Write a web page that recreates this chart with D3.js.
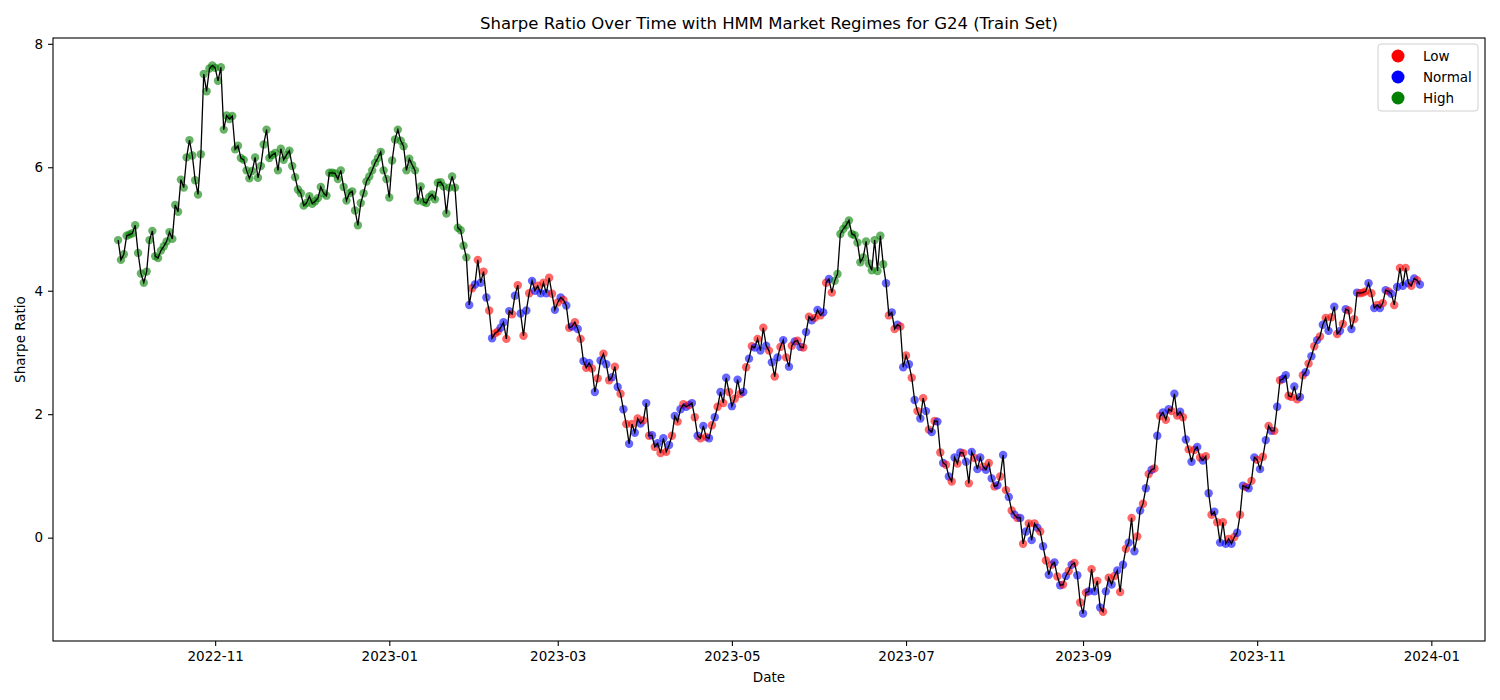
<!DOCTYPE html>
<html>
<head>
<meta charset="utf-8">
<script src="https://cdn.jsdelivr.net/npm/d3@7"></script>
<style>
  body { margin: 0; background: #fff; }
  svg text { font-family: "DejaVu Sans", sans-serif; fill: #000; }
</style>
</head>
<body>
<svg id="chart" width="1500" height="700"></svg>
<script>
// one value per calendar day, first day below
var firstDay = "2022-09-28";

var sharpeValues = [
  4.82, 4.50, 4.59, 4.89, 4.91, 4.93, 5.06, 4.61, 4.28, 4.13,
  4.31, 4.82, 4.97, 4.56, 4.53, 4.65, 4.72, 4.80, 4.95, 4.84,
  5.39, 5.28, 5.80, 5.67, 6.16, 6.44, 6.19, 5.79, 5.56, 6.21,
  7.51, 7.23, 7.60, 7.65, 7.61, 7.40, 7.62, 6.61, 6.84, 6.78,
  6.83, 6.29, 6.35, 6.15, 6.12, 5.95, 5.82, 5.94, 6.16, 5.83,
  6.02, 6.37, 6.61, 6.15, 6.20, 6.23, 5.95, 6.30, 6.12, 6.20,
  6.27, 6.02, 5.84, 5.64, 5.58, 5.38, 5.42, 5.53, 5.41, 5.45,
  5.50, 5.68, 5.58, 5.54, 5.91, 5.91, 5.90, 5.81, 5.95, 5.68,
  5.46, 5.58, 5.61, 5.30, 5.06, 5.42, 5.58, 5.77, 5.85, 5.95,
  6.07, 6.15, 6.25, 5.95, 5.81, 5.51, 6.11, 6.45, 6.61, 6.43,
  6.34, 5.95, 6.14, 6.04, 5.95, 5.46, 5.69, 5.44, 5.42, 5.52,
  5.56, 5.48, 5.75, 5.76, 5.69, 5.25, 5.67, 5.85, 5.67, 5.02,
  4.98, 4.73, 4.54, 3.77, 4.04, 4.10, 4.50, 4.13, 4.31, 3.89,
  3.68, 3.23, 3.31, 3.34, 3.40, 3.49, 3.22, 3.67, 3.62, 3.92,
  4.09, 3.63, 3.27, 3.68, 3.96, 4.16, 4.00, 4.08, 3.96, 4.13,
  3.96, 4.21, 3.95, 3.69, 3.81, 3.89, 3.85, 3.76, 3.40, 3.42,
  3.49, 3.38, 3.22, 2.86, 2.75, 2.83, 2.74, 2.36, 2.58, 2.87,
  2.98, 2.81, 2.55, 2.60, 2.77, 2.44, 2.33, 2.08, 1.84, 1.52,
  1.84, 1.70, 1.93, 1.85, 1.90, 2.18, 1.65, 1.66, 1.47, 1.53,
  1.37, 1.61, 1.39, 1.50, 1.65, 1.97, 1.88, 2.08, 2.16, 2.12,
  2.15, 2.18, 1.95, 1.65, 1.61, 1.81, 1.63, 1.61, 1.82, 1.95,
  2.12, 2.36, 2.18, 2.59, 2.36, 2.13, 2.25, 2.56, 2.33, 2.36,
  2.76, 2.90, 3.10, 3.08, 3.22, 3.03, 3.40, 3.11, 3.03, 2.84,
  2.61, 2.92, 3.09, 3.20, 2.92, 2.77, 3.11, 3.18, 3.19, 3.09,
  3.08, 3.33, 3.58, 3.52, 3.56, 3.69, 3.60, 3.65, 4.13, 4.19,
  3.97, 4.16, 4.27, 4.92, 5.00, 5.06, 5.14, 4.92, 4.90, 4.78,
  4.46, 4.54, 4.80, 4.44, 4.33, 4.82, 4.32, 4.89, 4.43, 4.12,
  3.60, 3.65, 3.38, 3.45, 3.42, 2.76, 2.95, 2.81, 2.59, 2.23,
  2.05, 1.93, 2.26, 2.05, 1.75, 1.71, 1.89, 1.88, 1.38, 1.21,
  1.18, 0.99, 0.91, 1.30, 1.20, 1.38, 1.37, 1.23, 0.88, 1.39,
  1.29, 1.11, 1.30, 1.15, 1.10, 1.21, 0.96, 0.83, 0.85, 0.99,
  1.34, 0.77, 0.66, 0.44, 0.37, 0.32, 0.32, -0.10, 0.10, 0.23,
  -0.04, 0.23, 0.16, 0.10, -0.14, -0.37, -0.60, -0.44, -0.40, -0.63,
  -0.77, -0.76, -0.62, -0.54, -0.44, -0.41, -0.61, -1.05, -1.23, -0.89,
  -0.87, -0.51, -0.87, -0.70, -1.13, -1.20, -0.87, -0.65, -0.76, -0.62,
  -0.53, -0.88, -0.44, -0.18, -0.08, 0.32, -0.22, 0.02, 0.44, 0.55,
  0.80, 1.03, 1.10, 1.12, 1.65, 1.97, 2.03, 1.91, 2.08, 2.05,
  2.33, 1.98, 2.04, 1.95, 1.59, 1.43, 1.23, 1.42, 1.47, 1.30,
  1.25, 1.32, 0.72, 0.37, 0.42, 0.25, -0.08, 0.25, -0.10, -0.02,
  -0.10, 0.01, 0.08, 0.37, 0.84, 0.82, 0.80, 0.92, 1.30, 1.26,
  1.11, 1.31, 1.58, 1.81, 1.73, 1.73, 2.12, 2.55, 2.57, 2.63,
  2.30, 2.28, 2.45, 2.24, 2.28, 2.63, 2.68, 2.82, 2.94, 3.10,
  3.20, 3.26, 3.45, 3.56, 3.35, 3.57, 3.74, 3.30, 3.35, 3.46,
  3.70, 3.68, 3.38, 3.54, 3.97, 3.96, 3.97, 3.99, 4.12, 3.96,
  3.72, 3.77, 3.72, 3.80, 4.01, 3.99, 3.95, 3.77, 4.06, 4.37,
  4.08, 4.37, 4.12, 4.08, 4.20, 4.17, 4.10
];

// G = High, B = Normal, R = Low ; ten days per chunk
var regimeCodes = [
  "GGGGGGGGGG", "GGGGGGGGGG", "GGGGGGGGGG", "GGGGGGGGGG", "GGGGGGGGGG",
  "GGGGGGGGGG", "GGGGGGGGGG", "GGGGGGGGGG", "GGGGGGGGGG", "GGGGGGGGGG",
  "GGGGGGGGGG", "GGGGGGGGGG", "GGGBRBRBRB", "RBRRBBRBRB", "RBRBRBBRBR",
  "BRRBRBRBRB", "RBRBRBRBRB", "RBRBRBRBRB", "RBRBRBRBRB", "RBRBRBRBRB",
  "RBRBRBRBRB", "RBRBRBRBRB", "RBRBRBRBRB", "RBRBRBRBRB", "RBRBRBRBRB",
  "RGGGGGGGGG", "GGGGGGGGGB", "RBRBRBRBRB", "RBRBRBRBRB", "RBRBRBRBRB",
  "RBBRBRBRBR", "BRBRBRBRBR", "BRBRBRBRBR", "BRBRBRBRBR", "BRBRBRBRBR",
  "BRBRBRBRBR", "BRBRBRBRBR", "BRBRBRBRBR", "BRBRBRBRBR", "BRBRBRBRBR",
  "BRBRBRBRBB", "RRBRBRBRBR", "BRBRBRBRBR", "BRBRBRRRBR", "BRBRBRBRBR",
  "BRBRBRB"
].join("");

var regimeNames = ["Low", "Normal", "High"];
var regimeKeys = ["R", "B", "G"];
var regimeColors = ["red", "blue", "green"];

var yTicks = [0, 2, 4, 6, 8];

var chartTitle = "Sharpe Ratio Over Time with HMM Market Regimes for G24 (Train Set)";

var parseDay = d3.timeParse("%Y-%m-%d");
var start = parseDay(firstDay);

var points = sharpeValues.map(function(v, i) {
    return {
        date: d3.timeDay.offset(start, i),
        value: v,
        regime: regimeCodes[i]
    };
});

var plotLeft = 53, plotRight = 1485, plotTop = 38, plotBottom = 641;

var svg = d3.select("#chart");

// matplotlib style 5% margins
var dateExtent = d3.extent(points, function(d) { return d.date; });
var span = dateExtent[1] - dateExtent[0];
var x = d3.scaleTime()
    .domain([new Date(+dateExtent[0] - span * 0.05), new Date(+dateExtent[1] + span * 0.05)])
    .range([plotLeft, plotRight]);

var valExtent = d3.extent(sharpeValues);
var vspan = valExtent[1] - valExtent[0];
var y = d3.scaleLinear()
    .domain([valExtent[0] - vspan * 0.05, valExtent[1] + vspan * 0.05])
    .range([plotBottom, plotTop]);

var color = d3.scaleOrdinal().domain(regimeKeys).range(regimeColors);

// x axis
var xAxis = svg.append("g")
    .attr("transform", "translate(0," + plotBottom + ")")
    .call(d3.axisBottom(x)
        .ticks(d3.timeMonth.every(2))
        .tickFormat(d3.timeFormat("%Y-%m"))
        .tickSizeOuter(0)
        .tickSize(5)
        .tickPadding(5));
xAxis.select(".domain").remove();
xAxis.selectAll("text").style("font-size", "13.5px").attr("dy", "0.75em");
xAxis.selectAll("line").attr("stroke", "#000").attr("stroke-width", 1.1);

// y axis
var yAxis = svg.append("g")
    .attr("transform", "translate(" + plotLeft + ",0)")
    .call(d3.axisLeft(y)
        .tickValues(yTicks)
        .tickFormat(d3.format("d"))
        .tickSizeOuter(0)
        .tickSize(5)
        .tickPadding(5));
yAxis.select(".domain").remove();
yAxis.selectAll("text").style("font-size", "13.5px");
yAxis.selectAll("line").attr("stroke", "#000").attr("stroke-width", 1.1);

// points
svg.append("g")
    .selectAll("circle")
    .data(points)
    .enter()
    .append("circle")
    .attr("cx", function(d) { return x(d.date); })
    .attr("cy", function(d) { return y(d.value); })
    .attr("r", 4.2)
    .attr("fill", function(d) { return color(d.regime); })
    .attr("fill-opacity", 0.6);

// connecting line on top
var line = d3.line()
    .x(function(d) { return x(d.date); })
    .y(function(d) { return y(d.value); });

svg.append("path")
    .datum(points)
    .attr("d", line)
    .attr("fill", "none")
    .attr("stroke", "#000")
    .attr("stroke-width", 1.3);

// frame
svg.append("rect")
    .attr("x", plotLeft)
    .attr("y", plotTop)
    .attr("width", plotRight - plotLeft)
    .attr("height", plotBottom - plotTop)
    .attr("fill", "none")
    .attr("stroke", "#000")
    .attr("stroke-width", 1.1);

// title and labels
svg.append("text")
    .attr("x", (plotLeft + plotRight) / 2)
    .attr("y", 29)
    .attr("text-anchor", "middle")
    .style("font-size", "16.5px")
    .text(chartTitle);

svg.append("text")
    .attr("x", (plotLeft + plotRight) / 2)
    .attr("y", 682)
    .attr("text-anchor", "middle")
    .style("font-size", "13.5px")
    .text("Date");

svg.append("text")
    .attr("transform", "translate(25," + (plotTop + plotBottom) / 2 + ") rotate(-90)")
    .attr("text-anchor", "middle")
    .style("font-size", "13.5px")
    .text("Sharpe Ratio");

// legend
var legend = svg.append("g").attr("transform", "translate(1378,44)");
legend.append("rect")
    .attr("width", 100)
    .attr("height", 67)
    .attr("rx", 3)
    .attr("fill", "#fff")
    .attr("fill-opacity", 0.8)
    .attr("stroke", "#d0d0d0");

var item = legend.selectAll("g.item")
    .data(regimeNames)
    .enter()
    .append("g")
    .attr("class", "item")
    .attr("transform", function(d, i) { return "translate(0," + (12 + i * 21) + ")"; });

item.append("circle")
    .attr("cx", 20)
    .attr("cy", 0)
    .attr("r", 6.5)
    .attr("fill", function(d, i) { return regimeColors[i]; });

item.append("text")
    .attr("x", 45)
    .attr("y", 0)
    .attr("dy", "0.35em")
    .style("font-size", "13.5px")
    .text(function(d) { return d; });

if (regimeCodes.length !== sharpeValues.length) {
    console.log("length mismatch", regimeCodes.length, sharpeValues.length);
}
</script>
</body>
</html>
